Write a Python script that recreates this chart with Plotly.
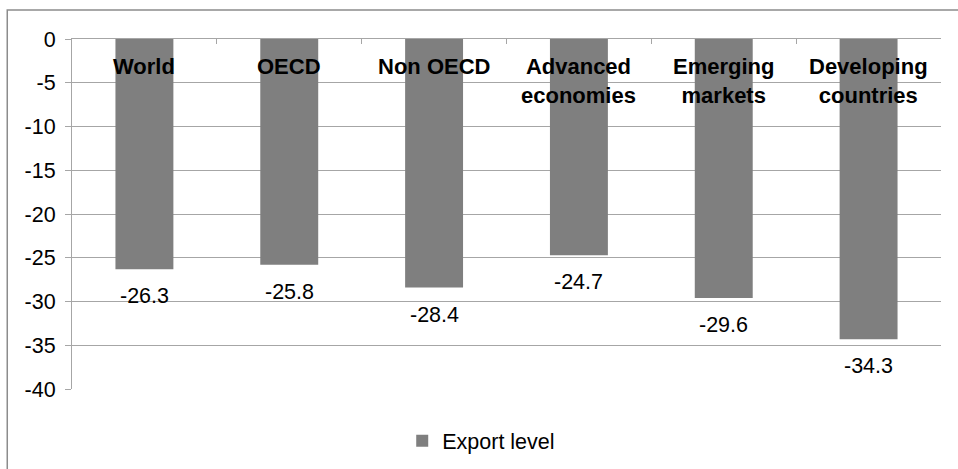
import plotly.graph_objects as go

# Export level change by country group (%)
categories = ["World", "OECD", "Non OECD", "Advanced economies",
              "Emerging markets", "Developing countries"]
category_labels = ["World", "OECD", "Non OECD", "Advanced<br>economies",
                   "Emerging<br>markets", "Developing<br>countries"]
export_level = [-26.3, -25.8, -28.4, -24.7, -29.6, -34.3]
y_ticks = [0, -5, -10, -15, -20, -25, -30, -35, -40]

FONT = "Liberation Sans, Arial, sans-serif"
BAR = "#7f7f7f"
GRID = "#a6a6a6"

fig = go.Figure()
fig.add_trace(go.Bar(
    x=categories,
    y=export_level,
    name="Export level",
    marker=dict(color=BAR, line=dict(width=0)),
    hoverinfo="x+y",
))

annotations = []
# category names drawn just under the zero line, in bold
for cat, lab in zip(categories, category_labels):
    annotations.append(dict(
        x=cat, y=0, xref="x", yref="y", text=f"<b>{lab}</b>", showarrow=False,
        yanchor="top", yshift=-13,
        font=dict(family=FONT, size=22, color="black"),
        align="center",
    ))
# value labels below each bar end
for cat, val in zip(categories, export_level):
    annotations.append(dict(
        x=cat, y=val, xref="x", yref="y", text=f"{val:.1f}", showarrow=False,
        yanchor="middle", yshift=-27,
        font=dict(family=FONT, size=21.5, color="black"),
    ))

fig.update_layout(
    width=958, height=469,
    margin=dict(l=72, r=17, t=39, b=80, autoexpand=False),
    paper_bgcolor="white", plot_bgcolor="white",
    bargap=0.6,
    font=dict(family=FONT, size=21.5, color="black"),
    showlegend=True,
    legend=dict(
        orientation="h", x=0.38, xanchor="left", y=-0.148, yanchor="middle",
        font=dict(family=FONT, size=21.5, color="black"),
        bgcolor="rgba(0,0,0,0)",
    ),
    annotations=annotations,
    shapes=[dict(
        type="rect", xref="paper", yref="paper",
        x0=-0.0745, x1=1.2, y0=-0.4, y1=1.083,
        line=dict(color="#8c8c8c", width=1.5), fillcolor="rgba(0,0,0,0)",
        layer="below",
    )],
)

fig.update_xaxes(
    side="top",
    showticklabels=False,
    ticks="inside", tickson="boundaries", ticklen=5,
    tickcolor=GRID, tickwidth=1,
    showline=True, linecolor=GRID, linewidth=1,
    showgrid=False, zeroline=False,
    range=[-0.5, 5.5],
)
fig.update_yaxes(
    range=[-40, 0],
    tickvals=y_ticks,
    ticktext=[str(v) for v in y_ticks],
    ticks="outside", ticklen=6, tickcolor=GRID, tickwidth=1,
    ticklabelstandoff=5,
    showline=True, linecolor=GRID, linewidth=1,
    showgrid=True, gridcolor=GRID, gridwidth=1,
    zeroline=False,
    tickfont=dict(family=FONT, size=21.5, color="black"),
)

fig.write_html("out.html")
